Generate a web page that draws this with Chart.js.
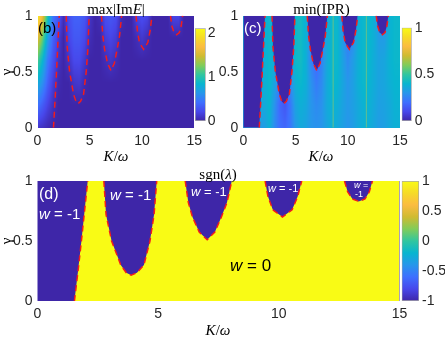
<!DOCTYPE html>
<html>
<head>
<meta charset="utf-8">
<script src="https://cdn.jsdelivr.net/npm/chart.js@4/dist/chart.umd.min.js"></script>
<style>
body { margin: 0; background: #fff; }
#fig { position: relative; width: 445px; height: 339px; overflow: hidden; font-family: "Liberation Sans", Arial, sans-serif; }
#fig canvas { position: absolute; left: 0; top: 0; }
.t { position: absolute; white-space: nowrap; line-height: 1; transform: translate(-50%, -50%); color: #000; }
.l { position: absolute; white-space: nowrap; line-height: 1; transform: translateY(-50%); }
.serif { font-family: "Liberation Serif", "DejaVu Serif", serif; font-size: 15px; }
.w { color: #fff; }
</style>
</head>
<body>
<div id="fig">
  <canvas id="panelB" width="445" height="339"></canvas>
  <canvas id="barB" width="445" height="339"></canvas>
  <canvas id="panelC" width="445" height="339"></canvas>
  <canvas id="barC" width="445" height="339"></canvas>
  <canvas id="panelD" width="445" height="339"></canvas>
  <canvas id="barD" width="445" height="339"></canvas>

  <div class="t serif" style="left:116px;top:8.5px;">max|Im<i>E</i>|</div>
  <div class="t serif" style="left:321.5px;top:8.5px;">min(IPR)</div>
  <div class="t serif" style="left:218px;top:173.5px;">sgn(<i>λ</i>)</div>
  <div class="t serif" style="left:116px;top:156px;"><i>K</i>/<i>ω</i></div>
  <div class="t serif" style="left:321px;top:156px;"><i>K</i>/<i>ω</i></div>
  <div class="t serif" style="left:218px;top:330px;"><i>K</i>/<i>ω</i></div>
  <div class="t serif" style="left:5.5px;top:72px;transform:translate(-50%,-50%) rotate(-90deg);">γ</div>
  <div class="t serif" style="left:5.5px;top:241px;transform:translate(-50%,-50%) rotate(-90deg);">γ</div>

  <div class="l" style="left:38px;top:27px;font-size:15px;">(b)</div>
  <div class="l w" style="left:244px;top:26.5px;font-size:15px;">(c)</div>
  <div class="l w" style="left:39px;top:193.5px;font-size:16px;">(d)</div>
  <div class="l w" style="left:39px;top:213px;font-size:15px;"><i>w</i> = -1</div>
  <div class="l w" style="left:110px;top:194px;font-size:15px;"><i>w</i> = -1</div>
  <div class="l w" style="left:191px;top:190.5px;font-size:13px;"><i>w</i> = -1</div>
  <div class="l w" style="left:268px;top:187.5px;font-size:11px;"><i>w</i> = -1</div>
  <div class="l w" style="left:354px;top:185px;font-size:9px;"><i>w</i> =</div>
  <div class="l w" style="left:355px;top:194px;font-size:9px;">-1</div>
  <div class="l" style="left:230px;top:265px;font-size:17px;"><i>w</i> = 0</div>
</div>
<script>
// axes
var kTicks = [0, 5, 10, 15];
var gTicks = [0, 0.5, 1];
var barTicksB = [0, 1, 2];
var barRangeB = [0, 2.12];
var barTicksC = [0, 0.5, 1];
var barRangeC = [0, 1];
var barTicksD = [-1, -0.5, 0, 0.5, 1];
var barRangeD = [-1, 1];

// phase boundaries (K/omega, gamma)
var edgeK = [1.53, 1.68, 1.82, 1.95, 2.08];
var edgeG = [0, 0.25, 0.5, 0.75, 1];
var lobe1K = [2.75, 2.84, 3.07, 3.45, 3.68, 3.88, 4.12, 4.41, 4.66, 4.83, 4.94];
var lobe1G = [1, 0.72, 0.5, 0.3, 0.235, 0.215, 0.235, 0.3, 0.5, 0.72, 1];
var lobe2K = [6.12, 6.25, 6.42, 6.7, 7.03, 7.35, 7.62, 7.85, 8.05];
var lobe2G = [1, 0.82, 0.7, 0.575, 0.51, 0.575, 0.7, 0.82, 1];
var lobe3K = [9.43, 9.55, 9.75, 10.15, 10.55, 10.78, 10.95];
var lobe3G = [1, 0.87, 0.76, 0.7, 0.76, 0.87, 1];
var lobe4K = [12.72, 12.85, 13.05, 13.31, 13.57, 13.75, 13.88];
var lobe4G = [1, 0.91, 0.85, 0.83, 0.85, 0.91, 1];
var stripeK = [8.6, 11.78];

// coarse sampled maps, rows = gamma, columns = K
var kGrid = [0, 0.5, 1, 1.5, 2, 2.5, 3, 3.5, 4, 4.5, 5, 5.5, 6, 6.5, 7, 7.5, 8, 8.5, 9, 9.5, 10, 10.5, 11, 11.5, 12, 12.5, 13, 13.5, 14, 14.5, 15];
var gGrid = [0, 0.2, 0.4, 0.6, 0.8, 1];
var imE = [
  [0.12, 0.08, 0.03, 0, 0, 0, 0, 0, 0, 0, 0, 0, 0, 0, 0, 0, 0, 0, 0, 0, 0, 0, 0, 0, 0, 0, 0, 0, 0, 0, 0],
  [0.45, 0.32, 0.18, 0.07, 0, 0, 0, 0, 0, 0, 0, 0, 0, 0, 0, 0, 0, 0, 0, 0, 0, 0, 0, 0, 0, 0, 0, 0, 0, 0, 0],
  [0.8, 0.6, 0.34, 0.15, 0.03, 0, 0, 0.1, 0.12, 0.03, 0, 0, 0, 0, 0, 0, 0, 0, 0, 0, 0, 0, 0, 0, 0, 0, 0, 0, 0, 0, 0],
  [1.15, 0.85, 0.47, 0.25, 0.08, 0, 0.1, 0.22, 0.22, 0.12, 0, 0, 0, 0.05, 0.1, 0.05, 0, 0, 0, 0, 0, 0, 0, 0, 0, 0, 0, 0, 0, 0, 0],
  [1.6, 1.2, 0.68, 0.35, 0.15, 0, 0.2, 0.3, 0.3, 0.22, 0.05, 0, 0, 0.15, 0.2, 0.15, 0, 0, 0, 0.05, 0.12, 0.05, 0, 0, 0, 0, 0, 0, 0, 0, 0],
  [2.05, 1.6, 0.95, 0.45, 0.3, 0.05, 0.25, 0.35, 0.35, 0.3, 0.1, 0, 0.05, 0.25, 0.3, 0.25, 0.05, 0, 0, 0.2, 0.25, 0.2, 0, 0, 0, 0, 0.2, 0.2, 0, 0, 0]
];
var ipr = [
  [0.32, 0.32, 0.32, 0.32, 0.32, 0.38, 0.27, 0.2, 0.18, 0.22, 0.31, 0.36, 0.34, 0.3, 0.29, 0.3, 0.34, 0.38, 0.36, 0.33, 0.3, 0.32, 0.36, 0.38, 0.38, 0.35, 0.32, 0.33, 0.36, 0.38, 0.38],
  [0.36, 0.36, 0.36, 0.36, 0.36, 0.4, 0.29, 0.18, 0.14, 0.22, 0.34, 0.38, 0.36, 0.3, 0.27, 0.29, 0.36, 0.39, 0.38, 0.34, 0.31, 0.33, 0.36, 0.39, 0.39, 0.36, 0.33, 0.34, 0.36, 0.39, 0.39],
  [0.38, 0.38, 0.38, 0.38, 0.38, 0.41, 0.34, 0.23, 0.18, 0.27, 0.38, 0.41, 0.38, 0.29, 0.23, 0.27, 0.36, 0.41, 0.4, 0.35, 0.3, 0.33, 0.38, 0.41, 0.4, 0.37, 0.34, 0.35, 0.38, 0.4, 0.4],
  [0.38, 0.38, 0.38, 0.38, 0.38, 0.41, 0.36, 0.27, 0.23, 0.31, 0.41, 0.43, 0.38, 0.25, 0.18, 0.25, 0.36, 0.41, 0.41, 0.34, 0.27, 0.32, 0.38, 0.41, 0.41, 0.37, 0.34, 0.35, 0.39, 0.41, 0.41],
  [0.38, 0.38, 0.38, 0.38, 0.38, 0.41, 0.38, 0.32, 0.27, 0.32, 0.41, 0.43, 0.38, 0.27, 0.18, 0.27, 0.36, 0.41, 0.41, 0.32, 0.23, 0.27, 0.38, 0.41, 0.41, 0.38, 0.32, 0.32, 0.39, 0.41, 0.41],
  [0.38, 0.38, 0.38, 0.38, 0.38, 0.41, 0.38, 0.32, 0.27, 0.32, 0.41, 0.43, 0.38, 0.27, 0.18, 0.27, 0.36, 0.41, 0.41, 0.27, 0.23, 0.27, 0.38, 0.41, 0.41, 0.38, 0.27, 0.27, 0.39, 0.41, 0.41]
];

var parula = [[62, 38, 168], [71, 71, 235], [62, 111, 255], [39, 150, 235], [8, 181, 208], [49, 198, 159],
  [129, 204, 89], [207, 187, 49], [251, 188, 65], [246, 219, 39], [249, 251, 21]];
var darkBlue = 'rgb(62,38,168)';
var yellow = 'rgb(249,251,21)';
var red = '#f21c1c';

Chart.defaults.font.family = "'Liberation Sans', Arial, sans-serif";
Chart.defaults.color = '#262626';

var colorAt = function (t) {
  t = Math.max(0, Math.min(1, t)) * (parula.length - 1);
  var i = Math.min(Math.floor(t), parula.length - 2), f = t - i;
  var a = parula[i], b = parula[i + 1];
  return [a[0] + (b[0] - a[0]) * f, a[1] + (b[1] - a[1]) * f, a[2] + (b[2] - a[2]) * f];
};

var findCell = function (arr, v) {
  var i = 0;
  while (i < arr.length - 2 && v > arr[i + 1]) i++;
  var f = (v - arr[i]) / (arr[i + 1] - arr[i]);
  return [i, Math.max(0, Math.min(1, f))];
};

var sample = function (z, k, g) {
  var ck = findCell(kGrid, k), cg = findCell(gGrid, g);
  var i = ck[0], fi = ck[1], j = cg[0], fj = cg[1];
  var a = z[j][i] * (1 - fi) + z[j][i + 1] * fi;
  var b = z[j + 1][i] * (1 - fi) + z[j + 1][i + 1] * fi;
  return a * (1 - fj) + b * fj;
};

// paints a sampled map under the datasets, through the chart's scales
var heatPlugin = function (z, range) {
  return {
    id: 'heat',
    beforeDatasetsDraw: function (chart) {
      var a = chart.chartArea, xs = chart.scales.x, ys = chart.scales.y, ctx = chart.ctx;
      var x0 = Math.round(a.left), y0 = Math.round(a.top);
      var w = Math.round(a.right) - x0, h = Math.round(a.bottom) - y0;
      var img = ctx.createImageData(w, h);
      for (var j = 0; j < h; j++) {
        var g = ys.getValueForPixel(y0 + j + 0.5);
        for (var i = 0; i < w; i++) {
          var k = xs.getValueForPixel(x0 + i + 0.5);
          var c = colorAt((sample(z, k, g) - range[0]) / (range[1] - range[0]));
          var p = (j * w + i) * 4;
          img.data[p] = c[0]; img.data[p + 1] = c[1]; img.data[p + 2] = c[2]; img.data[p + 3] = 255;
        }
      }
      ctx.putImageData(img, x0, y0);
    }
  };
};

var bgPlugin = function (color) {
  return {
    id: 'bg',
    beforeDatasetsDraw: function (chart) {
      var a = chart.chartArea, ctx = chart.ctx;
      ctx.save();
      ctx.fillStyle = color;
      ctx.fillRect(a.left, a.top, a.right - a.left, a.bottom - a.top);
      ctx.restore();
    }
  };
};

var pts = function (ks, gs) {
  return ks.map(function (k, i) { return { x: k, y: gs[i] }; });
};

var boundaries = function () {
  return [pts(edgeK, edgeG), pts(lobe1K, lobe1G), pts(lobe2K, lobe2G), pts(lobe3K, lobe3G), pts(lobe4K, lobe4G)].map(function (d) {
    return { data: d, borderColor: red, borderWidth: 1.5, borderDash: [6, 4], pointRadius: 0, fill: false, tension: 0 };
  });
};

var tickList = function (list) {
  return function (s) { s.ticks = list.map(function (v) { return { value: v }; }); };
};
var plain = function (v) { return String(v); };
var noGrid = { display: false, drawTicks: false, tickLength: 0 };

var panel = function (id, pad, datasets, plugins) {
  return new Chart(document.getElementById(id), {
    type: 'line',
    data: { datasets: datasets },
    plugins: plugins,
    options: {
      responsive: false,
      animation: false,
      layout: { padding: pad },
      plugins: { legend: { display: false }, tooltip: { enabled: false } },
      scales: {
        x: {
          type: 'linear', min: kTicks[0], max: kTicks[kTicks.length - 1],
          afterBuildTicks: tickList(kTicks),
          afterFit: function (s) { s.height = 30; },
          grid: noGrid, border: { display: false },
          ticks: { font: { size: 14 }, padding: 5, maxRotation: 0, autoSkip: false, callback: plain }
        },
        y: {
          type: 'linear', min: gTicks[0], max: gTicks[gTicks.length - 1],
          afterBuildTicks: tickList(gTicks),
          afterFit: function (s) { s.width = 37.5; },
          grid: noGrid, border: { display: false },
          ticks: { font: { size: 14 }, padding: 5, autoSkip: false, callback: plain }
        }
      }
    }
  });
};

var colorbar = function (id, pad, range, ticks, gap) {
  return new Chart(document.getElementById(id), {
    type: 'bar',
    data: {
      labels: [''],
      datasets: [{
        data: [[range[0], range[1]]],
        backgroundColor: function (c) {
          var a = c.chart.chartArea;
          if (!a) return darkBlue;
          var gr = c.chart.ctx.createLinearGradient(0, a.bottom, 0, a.top);
          parula.forEach(function (p, i) { gr.addColorStop(i / (parula.length - 1), 'rgb(' + p.join(',') + ')'); });
          return gr;
        },
        borderColor: '#a8a8a8', borderWidth: 1, borderSkipped: false,
        barPercentage: 1, categoryPercentage: 1
      }]
    },
    options: {
      responsive: false,
      animation: false,
      layout: { padding: pad },
      plugins: { legend: { display: false }, tooltip: { enabled: false } },
      scales: {
        x: { display: false },
        y: {
          position: 'right', min: range[0], max: range[1],
          afterBuildTicks: tickList(ticks),
          afterFit: function (s) { s.width = 26; },
          grid: noGrid, border: { display: false },
          ticks: { font: { size: 14 }, padding: gap, autoSkip: false, callback: plain }
        }
      }
    }
  });
};

// (b) max|Im E|
panel('panelB', { left: 0, right: 250.7, top: 15.7, bottom: 339 - 127.7 - 30 }, boundaries(), [heatPlugin(imE, barRangeB)]);
colorbar('barB', { left: 195, right: 445 - 205.7 - 26, top: 28.3, bottom: 339 - 121 }, barRangeB, barTicksB, 2);

// (c) min(IPR)
var leftRegion = [{ x: kTicks[0], y: gTicks[0] }].concat(pts(edgeK, edgeG));
var darkSets = [leftRegion, pts(lobe1K, lobe1G), pts(lobe2K, lobe2G), pts(lobe3K, lobe3G), pts(lobe4K, lobe4G)].map(function (d) {
  return { data: d, borderWidth: 0, pointRadius: 0, fill: 'end', backgroundColor: darkBlue, tension: 0 };
});
var stripeSets = stripeK.map(function (k) {
  return { data: [{ x: k, y: gTicks[0] }, { x: k, y: gTicks[gTicks.length - 1] }], borderColor: 'rgba(160,200,95,0.6)', borderWidth: 1, pointRadius: 0, fill: false };
});
panel('panelC', { left: 205.8, right: 45, top: 15.7, bottom: 339 - 127.7 - 30 }, boundaries().concat(darkSets, stripeSets), [heatPlugin(ipr, barRangeC)]);
colorbar('barC', { left: 401.7, right: 445 - 411.7 - 26, top: 27.7, bottom: 339 - 121 }, barRangeC, barTicksC, 3);

// (d) sgn(lambda): yellow where w = 0, blue where w = -1
var zeroRegion = pts(edgeK, edgeG).concat(pts(lobe1K, lobe1G), pts(lobe2K, lobe2G), pts(lobe3K, lobe3G), pts(lobe4K, lobe4G),
  [{ x: kTicks[kTicks.length - 1], y: gTicks[gTicks.length - 1] }]);
var zeroSet = { data: zeroRegion, borderWidth: 0, pointRadius: 0, fill: 'start', backgroundColor: yellow, tension: 0 };
panel('panelD', { left: 0, right: 45.5, top: 181, bottom: 339 - 301 - 30 }, boundaries().concat([zeroSet]), [bgPlugin(darkBlue)]);
colorbar('barD', { left: 401.7, right: 0, top: 181, bottom: 339 - 301 }, barRangeD, barTicksD, 3);
</script>
</body>
</html>
